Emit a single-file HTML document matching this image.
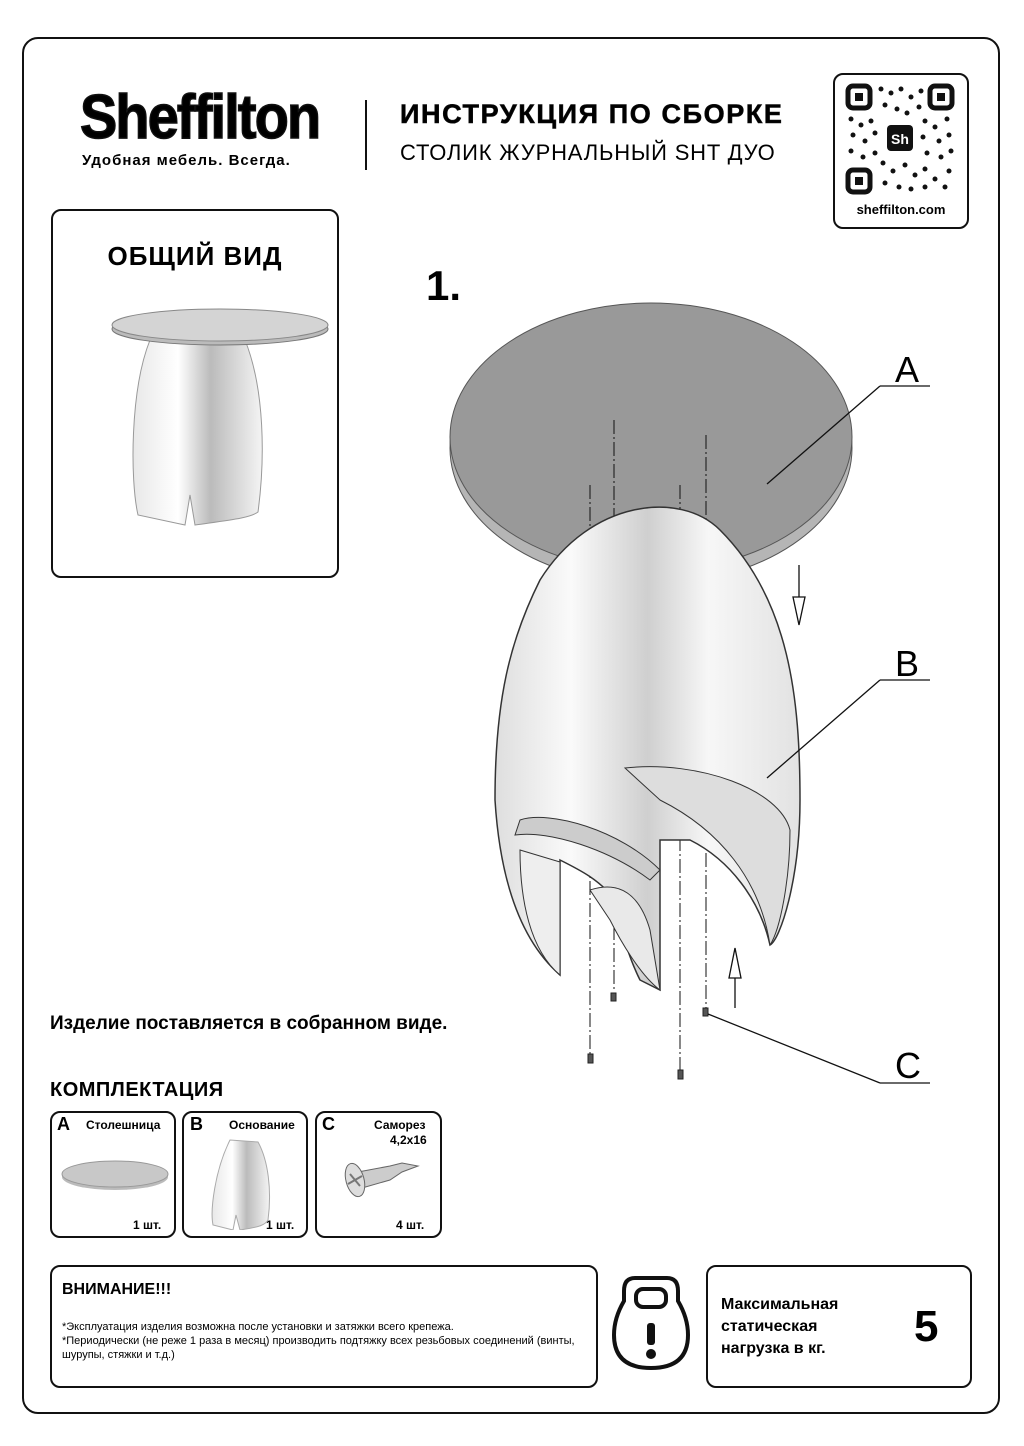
<!DOCTYPE html>
<html><head><meta charset="utf-8"><style>
body{margin:0;width:1024px;height:1446px;background:#fff;position:relative;font-family:"Liberation Sans",sans-serif;overflow:hidden}
.a{position:absolute;white-space:nowrap}
.box{position:absolute;border:2px solid #111;border-radius:10px;box-sizing:border-box}
</style></head><body>
<div class="box" style="left:22px;top:37px;width:978px;height:1377px;border-radius:16px"></div>
<div class="a" style="left:80px;top:82px;font-size:62px;font-weight:bold;letter-spacing:-2px;transform:scaleX(0.9);transform-origin:left;-webkit-text-stroke:1.5px #111">Sheffilton</div>
<div class="a" style="left:82px;top:152px;font-size:15px;font-weight:bold;letter-spacing:1px">Удобная мебель. Всегда.</div>
<div class="a" style="left:365px;top:100px;width:2px;height:70px;background:#111"></div>
<div class="a" style="left:400px;top:99px;font-size:27px;font-weight:bold;letter-spacing:1.6px;-webkit-text-stroke:0.6px #111">ИНСТРУКЦИЯ ПО СБОРКЕ</div>
<div class="a" style="left:400px;top:140px;font-size:22px;letter-spacing:0.8px">СТОЛИК ЖУРНАЛЬНЫЙ SHT ДУО</div>
<div class="box" style="left:833px;top:73px;width:136px;height:156px"></div>
<svg class="a" style="left:845px;top:83px" width="110" height="112" viewBox="0 0 110 112">
<g fill="none" stroke="#111" stroke-width="5"><rect x="3" y="3" width="22" height="22" rx="5"/><rect x="85" y="3" width="22" height="22" rx="5"/><rect x="3" y="87" width="22" height="22" rx="5"/></g>
<g fill="#111"><rect x="10" y="10" width="8" height="8"/><rect x="92" y="10" width="8" height="8"/><rect x="10" y="94" width="8" height="8"/>
<rect x="42" y="42" width="26" height="26" rx="4"/>
<circle cx="36" cy="6" r="2.5"/><circle cx="46" cy="10" r="2.5"/><circle cx="56" cy="6" r="2.5"/><circle cx="66" cy="14" r="2.5"/><circle cx="76" cy="8" r="2.5"/><circle cx="40" cy="22" r="2.5"/><circle cx="52" cy="26" r="2.5"/><circle cx="62" cy="30" r="2.5"/><circle cx="74" cy="24" r="2.5"/>
<circle cx="6" cy="36" r="2.5"/><circle cx="16" cy="42" r="2.5"/><circle cx="26" cy="38" r="2.5"/><circle cx="8" cy="52" r="2.5"/><circle cx="20" cy="58" r="2.5"/><circle cx="30" cy="50" r="2.5"/><circle cx="6" cy="68" r="2.5"/><circle cx="18" cy="74" r="2.5"/><circle cx="30" cy="70" r="2.5"/>
<circle cx="80" cy="38" r="2.5"/><circle cx="90" cy="44" r="2.5"/><circle cx="102" cy="36" r="2.5"/><circle cx="78" cy="54" r="2.5"/><circle cx="94" cy="58" r="2.5"/><circle cx="104" cy="52" r="2.5"/><circle cx="82" cy="70" r="2.5"/><circle cx="96" cy="74" r="2.5"/><circle cx="106" cy="68" r="2.5"/>
<circle cx="38" cy="80" r="2.5"/><circle cx="48" cy="88" r="2.5"/><circle cx="60" cy="82" r="2.5"/><circle cx="70" cy="92" r="2.5"/><circle cx="40" cy="100" r="2.5"/><circle cx="54" cy="104" r="2.5"/><circle cx="66" cy="106" r="2.5"/><circle cx="80" cy="86" r="2.5"/><circle cx="90" cy="96" r="2.5"/><circle cx="100" cy="104" r="2.5"/><circle cx="104" cy="88" r="2.5"/><circle cx="80" cy="104" r="2.5"/>
</g>
<text x="55" y="61" fill="#fff" font-size="14" font-weight="bold" text-anchor="middle" font-family="Liberation Sans">Sh</text>
</svg>
<div class="a" style="left:833px;top:202px;width:136px;text-align:center;font-size:13px;font-weight:bold">sheffilton.com</div>

<div class="box" style="left:51px;top:209px;width:288px;height:369px"></div>
<div class="a" style="left:51px;top:241px;width:288px;text-align:center;font-size:26px;font-weight:bold;letter-spacing:1px">ОБЩИЙ ВИД</div>
<svg class="a" style="left:100px;top:300px" width="240" height="240">
<defs><linearGradient id="g1" x1="0" x2="1"><stop offset="0" stop-color="#e8e8e8"/><stop offset="0.35" stop-color="#fff"/><stop offset="0.6" stop-color="#bbb"/><stop offset="1" stop-color="#f4f4f4"/></linearGradient></defs>
<path d="M50 40 C30 90 30 180 38 215 L85 225 L90 195 L95 225 C130 220 150 218 158 212 C165 160 165 90 145 40 Z" fill="url(#g1)" stroke="#999"/>
<ellipse cx="120" cy="29" rx="108" ry="16" fill="#bbb" stroke="#777"/>
<ellipse cx="120" cy="25" rx="108" ry="16" fill="#d4d4d4" stroke="#888"/>
</svg>

<div class="a" style="left:426px;top:262px;font-size:42px;font-weight:bold">1.</div>

<svg class="a" style="left:0;top:0" width="1024" height="1446">
<defs>
<linearGradient id="g2" x1="0" x2="1"><stop offset="0" stop-color="#dedede"/><stop offset="0.25" stop-color="#fafafa"/><stop offset="0.5" stop-color="#cfcfcf"/><stop offset="0.7" stop-color="#f7f7f7"/><stop offset="1" stop-color="#e2e2e2"/></linearGradient>
</defs>
<ellipse cx="651" cy="448" rx="201" ry="136" fill="#b5b5b5" stroke="#555"/>
<ellipse cx="651" cy="437" rx="201" ry="134" fill="#999" stroke="#555"/>
<g stroke="#111" stroke-width="1" stroke-dasharray="14,3,2,3" fill="none">
<line x1="590" y1="485" x2="590" y2="1055"/><line x1="614" y1="420" x2="614" y2="990"/><line x1="680" y1="485" x2="680" y2="1070"/><line x1="706" y1="435" x2="706" y2="1010"/>
</g>
<path d="M540 580 C590 500 680 490 720 530 C790 600 800 700 800 800 C800 880 780 940 770 945 C760 900 730 860 690 840 L660 840 L660 990 L640 980 C630 960 620 930 615 900 C600 880 580 870 560 860 L560 975 C520 940 500 880 495 800 C495 700 510 640 540 580 Z" fill="url(#g2)" stroke="#333" stroke-width="1.5"/>
<path d="M625 768 C700 760 780 790 790 830 C790 880 780 930 770 945 C760 880 720 830 660 800 Z" fill="#ddd" stroke="#333"/>
<path d="M520 820 C550 810 620 830 660 870 L650 880 C610 850 550 830 515 835 Z" fill="#ccc" stroke="#333"/>
<path d="M520 850 L560 862 L560 975 C530 950 520 900 520 850 Z" fill="#eee" stroke="#333"/>
<path d="M590 890 C620 880 640 895 650 930 L660 990 C640 975 620 940 610 920 Z" fill="#e9e9e9" stroke="#333"/>
<g fill="#555" stroke="#222"><rect x="611" y="993" width="5" height="8"/><rect x="703" y="1008" width="5" height="8"/><rect x="588" y="1054" width="5" height="9"/><rect x="678" y="1070" width="5" height="9"/></g>
<g stroke="#111" stroke-width="1.3" fill="none">
<line x1="930" y1="386" x2="880" y2="386"/><line x1="880" y1="386" x2="767" y2="484"/>
<line x1="930" y1="680" x2="880" y2="680"/><line x1="880" y1="680" x2="767" y2="778"/>
<line x1="930" y1="1083" x2="880" y2="1083"/><line x1="880" y1="1083" x2="708" y2="1014"/>
<line x1="799" y1="565" x2="799" y2="620"/><path d="M793 597 L799 625 L805 597 Z" fill="#fff"/>
<line x1="735" y1="955" x2="735" y2="1008"/><path d="M729 978 L735 948 L741 978 Z" fill="#fff"/>
</g>
<g font-family="Liberation Sans" font-size="36"><text x="895" y="382">A</text><text x="895" y="676">B</text><text x="895" y="1078">C</text></g>
</svg>

<div class="a" style="left:50px;top:1013px;font-size:19px;font-weight:bold">Изделие поставляется в собранном виде.</div>
<div class="a" style="left:50px;top:1079px;font-size:20px;font-weight:bold;letter-spacing:0.5px">КОМПЛЕКТАЦИЯ</div>

<div class="box" style="left:50px;top:1111px;width:126px;height:127px"></div>
<div class="box" style="left:182px;top:1111px;width:126px;height:127px"></div>
<div class="box" style="left:315px;top:1111px;width:127px;height:127px"></div>
<div class="a" style="left:57px;top:1114px;font-size:18px;font-weight:bold">A</div>
<div class="a" style="left:86px;top:1118px;font-size:12px;font-weight:bold">Столешница</div>
<div class="a" style="left:190px;top:1114px;font-size:18px;font-weight:bold">B</div>
<div class="a" style="left:229px;top:1118px;font-size:12px;font-weight:bold">Основание</div>
<div class="a" style="left:322px;top:1114px;font-size:18px;font-weight:bold">C</div>
<div class="a" style="left:374px;top:1118px;font-size:12px;font-weight:bold">Саморез</div>
<div class="a" style="left:390px;top:1133px;font-size:12px;font-weight:bold">4,2x16</div>
<div class="a" style="left:133px;top:1218px;font-size:12px;font-weight:bold">1 шт.</div>
<div class="a" style="left:266px;top:1218px;font-size:12px;font-weight:bold">1 шт.</div>
<div class="a" style="left:396px;top:1218px;font-size:12px;font-weight:bold">4 шт.</div>
<svg class="a" style="left:50px;top:1130px" width="400" height="100">
<ellipse cx="65" cy="47" rx="53" ry="13" fill="#bbb"/><ellipse cx="65" cy="44" rx="53" ry="13" fill="#c8c8c8" stroke="#999"/>
<path d="M180 10 C165 40 160 80 163 95 L183 100 L186 85 L190 100 C210 97 215 95 218 90 C222 60 218 30 208 12 Z" fill="url(#g1)" stroke="#aaa"/>
<path d="M308 42 L340 36 L352 33 L368 36 L352 42 L340 50 L312 58 Z" fill="#ccc" stroke="#666"/>
<ellipse cx="305" cy="50" rx="9" ry="17" transform="rotate(-15 305 50)" fill="#ddd" stroke="#666"/>
<path d="M300 44 L310 56 M298 54 L312 46" stroke="#777" stroke-width="2"/>
</svg>

<div class="box" style="left:50px;top:1265px;width:548px;height:123px"></div>
<div class="a" style="left:62px;top:1281px;font-size:16px;font-weight:bold">ВНИМАНИЕ!!!</div>
<div class="a" style="left:62px;top:1320px;font-size:11px;line-height:14px">*Эксплуатация изделия возможна после установки и затяжки всего крепежа.<br>*Периодически (не реже 1 раза в месяц) производить подтяжку всех резьбовых соединений (винты,<br>шурупы, стяжки и т.д.)</div>
<svg class="a" style="left:610px;top:1273px" width="82" height="100">
<path d="M25 5 H57 Q68 5 68 18 V28 Q78 45 78 62 Q78 95 41 95 Q4 95 4 62 Q4 45 14 28 V18 Q14 5 25 5 Z" fill="none" stroke="#111" stroke-width="4"/>
<rect x="26" y="16" width="30" height="18" rx="7" fill="none" stroke="#111" stroke-width="4"/>
<rect x="37" y="50" width="8" height="22" rx="3" fill="#111"/><circle cx="41" cy="81" r="5" fill="#111"/>
</svg>
<div class="box" style="left:706px;top:1265px;width:266px;height:123px"></div>
<div class="a" style="left:721px;top:1294px;font-size:16px;font-weight:bold;line-height:22px">Максимальная<br>статическая<br>нагрузка в кг.</div>
<div class="a" style="left:914px;top:1302px;font-size:44px;font-weight:bold">5</div>
</body></html>
